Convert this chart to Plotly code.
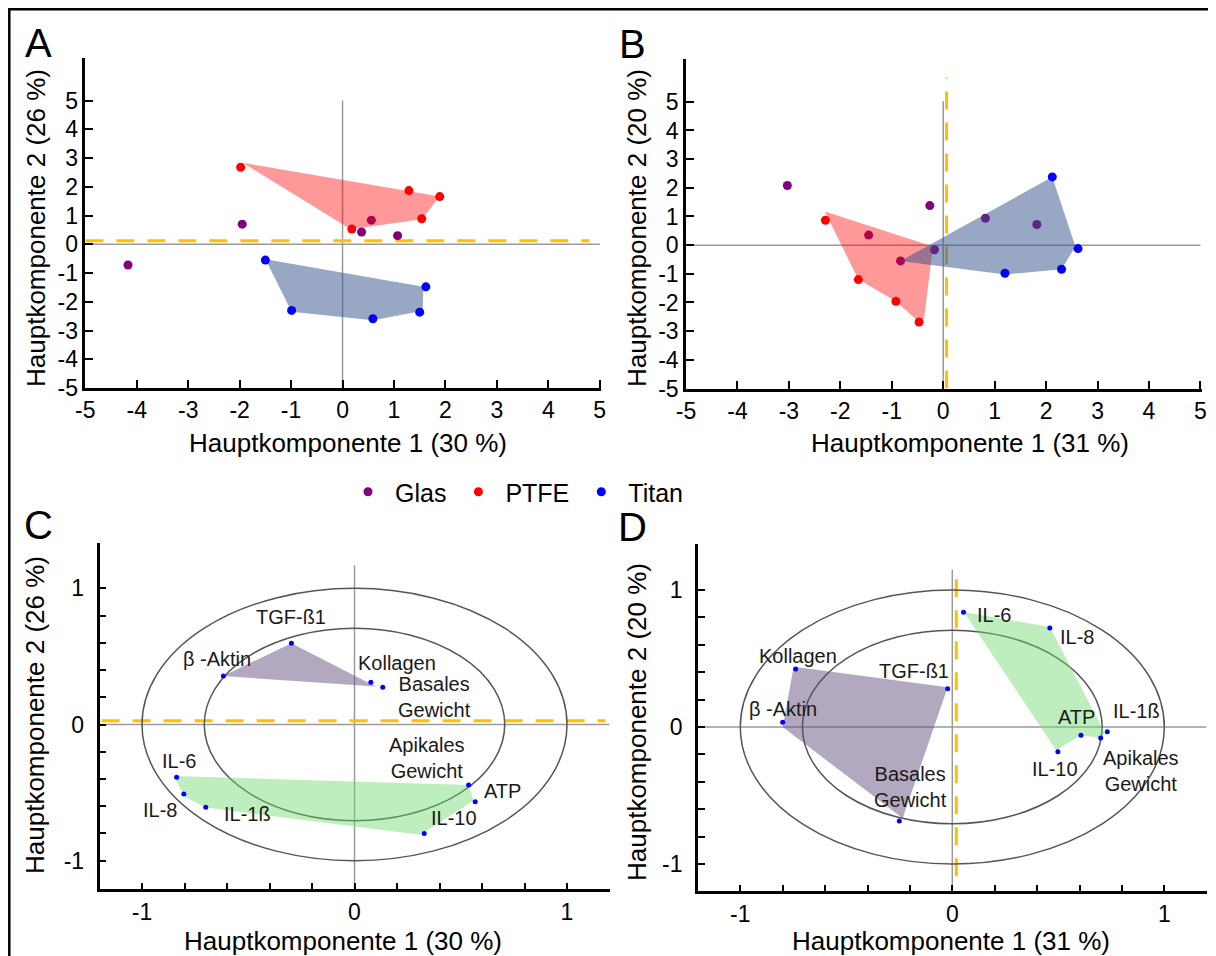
import plotly.graph_objects as go

# reference canvas is 1216x956; the page adds an 8 px body margin, so every
# reference pixel position is shifted by 8 px (overflow at right/bottom is clipped).
REF_W, REF_H, OFF = 1216, 956, 8
W, H = REF_W - OFF, REF_H - OFF
FONT = "Liberation Sans, Arial, Helvetica, sans-serif"

# ---------------- data: panel A (scores) ----------------
A_glas_x = [-4.17, -1.95, 0.37, 1.07, 0.56]
A_glas_y = [-0.72, 0.70, 0.43, 0.30, 0.84]
A_ptfe_x = [-1.98, 1.29, 1.89, 1.54, 0.18]
A_ptfe_y = [2.68, 1.87, 1.66, 0.89, 0.53]
A_titan_x = [-1.50, -0.99, 0.59, 1.50, 1.62]
A_titan_y = [-0.55, -2.30, -2.59, -2.36, -1.48]
A_ptfe_hull_x = [-1.94, 1.89, 1.54, 0.16]
A_ptfe_hull_y = [2.84, 1.66, 0.87, 0.52]
A_titan_hull_x = [-1.50, 1.57, 1.56, 0.59, -0.99]
A_titan_hull_y = [-0.52, -1.48, -2.31, -2.64, -2.35]

# ---------------- data: panel B (scores) ----------------
B_glas_x = [-3.03, -0.26, 0.82, 1.82, -0.83, -1.45, -0.17]
B_glas_y = [2.08, 1.38, 0.94, 0.72, -0.55, 0.35, -0.16]
B_ptfe_x = [-2.29, -1.65, -0.92, -0.47]
B_ptfe_y = [0.87, -1.20, -1.96, -2.68]
B_titan_x = [2.12, 2.62, 2.30, 1.20]
B_titan_y = [2.38, -0.12, -0.84, -0.98]
B_ptfe_hull_x = [-2.30, -0.20, -0.37, -0.47, -0.92, -1.65]
B_ptfe_hull_y = [1.17, -0.05, -2.55, -2.68, -1.96, -1.20]
B_titan_hull_x = [-0.83, 2.12, 2.57, 2.30, 1.20]
B_titan_hull_y = [-0.55, 2.38, -0.05, -0.84, -1.02]

# ---------------- data: panels C / D (loadings) ----------------
variables = ["TGF-ß1", "β -Aktin", "Kollagen", "Basales<br>Gewicht", "IL-6",
             "IL-8", "IL-1ß", "ATP", "Apikales<br>Gewicht", "IL-10"]
C_x = [-0.297, -0.617, 0.077, 0.133, -0.837, -0.803, -0.700, 0.568, 0.537, 0.328]
C_y = [0.596, 0.356, 0.310, 0.273, -0.388, -0.510, -0.608, -0.567, -0.444, -0.800]
D_x = [-0.022, -0.800, -0.739, -0.250, 0.053, 0.460, 0.731, 0.607, 0.700, 0.498]
D_y = [0.280, 0.034, 0.423, -0.686, 0.837, 0.723, -0.034, -0.060, -0.080, -0.180]
C_grp1_x = [-0.297, -0.620, 0.100]
C_grp1_y = [0.596, 0.356, 0.280]
C_grp2_x = [-0.850, 0.537, 0.560, 0.310, -0.700, -0.800]
C_grp2_y = [-0.378, -0.444, -0.560, -0.810, -0.610, -0.530]
D_grp1_x = [-0.748, -0.022, -0.234, -0.800]
D_grp1_y = [0.440, 0.290, -0.666, 0.000]
D_grp2_x = [0.055, 0.460, 0.720, 0.700, 0.607, 0.490]
D_grp2_y = [0.840, 0.730, -0.045, -0.080, -0.060, -0.170]

score_ticks = [-5, -4, -3, -2, -1, 0, 1, 2, 3, 4, 5]
score_ticktext = ["-5", "-4", "-3", "-2", "-1", "0", "1", "2", "3", "4", "5"]
load_ticks = [-1.0, -0.8, -0.6, -0.4, -0.2, 0.0, 0.2, 0.4, 0.6, 0.8, 1.0]
load_ticktext = ["-1", "", "", "", "", "0", "", "", "", "", "1"]

PURPLE, RED, BLUE = "#800080", "#ff0000", "#0000ff"
RED_FILL = "rgba(255,0,0,0.40)"
BLUE_FILL = "rgba(50,80,135,0.50)"
VIOLET_FILL = "rgba(95,75,125,0.48)"
GREEN_FILL = "rgba(110,215,110,0.45)"


def fx(px):
    return (px - OFF) / W


def fy(py):
    return 1 - (py - OFF) / H


def dom_x(a, b):
    return [fx(a), fx(b)]


def dom_y(top, bottom):
    return [fy(bottom), fy(top)]


fig = go.Figure()


def score_panel(ax, glas, ptfe, titan, hulls, legend):
    xa, ya = ("x", "y") if ax == 1 else (f"x{ax}", f"y{ax}")
    fig.add_trace(go.Scatter(x=glas[0], y=glas[1], mode="markers", name="Glas",
                             legendgroup="g", legendrank=1, showlegend=legend,
                             marker=dict(color=PURPLE, size=9), xaxis=xa, yaxis=ya))
    for hx, hy, col in hulls:
        fig.add_trace(go.Scatter(x=hx + [hx[0]], y=hy + [hy[0]], mode="none", fill="toself",
                                 fillcolor=col, showlegend=False, hoverinfo="skip",
                                 xaxis=xa, yaxis=ya))
    fig.add_trace(go.Scatter(x=ptfe[0], y=ptfe[1], mode="markers", name="PTFE",
                             legendgroup="p", legendrank=2, showlegend=legend,
                             marker=dict(color=RED, size=9), xaxis=xa, yaxis=ya))
    fig.add_trace(go.Scatter(x=titan[0], y=titan[1], mode="markers", name="Titan",
                             legendgroup="t", legendrank=3, showlegend=legend,
                             marker=dict(color=BLUE, size=9), xaxis=xa, yaxis=ya))


score_panel(1, (A_glas_x, A_glas_y), (A_ptfe_x, A_ptfe_y), (A_titan_x, A_titan_y),
            [(A_ptfe_hull_x, A_ptfe_hull_y, RED_FILL), (A_titan_hull_x, A_titan_hull_y, BLUE_FILL)], True)
score_panel(2, (B_glas_x, B_glas_y), (B_ptfe_x, B_ptfe_y), (B_titan_x, B_titan_y),
            [(B_ptfe_hull_x, B_ptfe_hull_y, RED_FILL), (B_titan_hull_x, B_titan_hull_y, BLUE_FILL)], False)


def loading_panel(ax, vx, vy, g1, g2):
    xa, ya = f"x{ax}", f"y{ax}"
    for gx, gy, col in [(g1[0], g1[1], VIOLET_FILL), (g2[0], g2[1], GREEN_FILL)]:
        fig.add_trace(go.Scatter(x=gx + [gx[0]], y=gy + [gy[0]], mode="none", fill="toself",
                                 fillcolor=col, showlegend=False, hoverinfo="skip",
                                 xaxis=xa, yaxis=ya))
    fig.add_trace(go.Scatter(x=vx, y=vy, mode="markers", text=variables, showlegend=False,
                             marker=dict(color=BLUE, size=5), xaxis=xa, yaxis=ya))


loading_panel(3, C_x, C_y, (C_grp1_x, C_grp1_y), (C_grp2_x, C_grp2_y))
loading_panel(4, D_x, D_y, (D_grp1_x, D_grp1_y), (D_grp2_x, D_grp2_y))

# ---------------- axes ----------------
base = dict(showline=True, linecolor="black", linewidth=2.5, ticks="inside", ticklen=8,
            tickwidth=2, tickcolor="black", showgrid=False, zeroline=False, fixedrange=True,
            automargin=False, tickfont=dict(size=23, family=FONT, color="black"))
score_ax = dict(base, tickvals=score_ticks, ticktext=score_ticktext)
load_ax = dict(base, tickvals=load_ticks, ticktext=load_ticktext, ticklen=7)

fig.update_layout(
    template="none",
    xaxis=dict(score_ax, domain=dom_x(85.3, 601.3), range=[-5, 5.03], anchor="y"),
    yaxis=dict(score_ax, domain=dom_y(57.5, 388), range=[-5, 6.5], anchor="x"),
    xaxis2=dict(score_ax, domain=dom_x(686, 1202), range=[-5, 5.03], anchor="y2"),
    yaxis2=dict(score_ax, domain=dom_y(58.8, 388.5), range=[-5, 6.5], anchor="x2"),
    xaxis3=dict(load_ax, domain=dom_x(99.5, 609.5), range=[-1.2, 1.2], anchor="y3"),
    yaxis3=dict(load_ax, domain=dom_y(543.4, 889.3), range=[-1.21, 1.33], anchor="x3",
                ticklabelstandoff=8),
    xaxis4=dict(load_ax, domain=dom_x(697.9, 1206.7), range=[-1.2, 1.2], anchor="y4"),
    yaxis4=dict(load_ax, domain=dom_y(544, 891.4), range=[-1.2, 1.336], anchor="x4",
                ticklabelstandoff=8),
)

# ---------------- shapes ----------------
GRAY = "#9a9a9a"
YELLOW = "#ffc000"
shapes = []


def line(ax, x0, y0, x1, y1, color, width, dash="solid"):
    xr, yr = ("x", "y") if ax == 1 else (f"x{ax}", f"y{ax}")
    shapes.append(dict(type="line", xref=xr, yref=yr, x0=x0, y0=y0, x1=x1, y1=y1, layer="below",
                       line=dict(color=color, width=width, dash=dash)))


DASH = "18px,13px"
# A
line(1, 0, -5, 0, 5, GRAY, 1.5); line(1, -5, 0, 5, 0, GRAY, 1.5)
line(1, -5, 0.125, 4.8, 0.125, YELLOW, 3, DASH)
# B
line(2, 0, -5, 0, 5.02, GRAY, 1.5); line(2, -5, 0, 5, 0, GRAY, 1.5)
line(2, 0.065, -5, 0.065, 5.85, YELLOW, 3, DASH)
# C
line(3, 0, -1.21, 0, 1.17, GRAY, 1.5); line(3, -1.2, 0, 1.2, 0, GRAY, 1.5)
line(3, -1.19, 0.028, 1.18, 0.028, YELLOW, 3, DASH)
# D
line(4, 0, -1.2, 0, 1.15, GRAY, 1.5); line(4, -1.2, 0, 1.2, 0, GRAY, 1.5)
line(4, 0.019, -1.09, 0.019, 1.13, YELLOW, 3, DASH)
for ax in (3, 4):
    for r in (1.0, 0.707):
        shapes.append(dict(type="circle", xref=f"x{ax}", yref=f"y{ax}", x0=-r, y0=-r, x1=r, y1=r,
                           layer="below", line=dict(color="#555555", width=1.5)))
# outer frame
shapes.append(dict(type="rect", xref="paper", yref="paper", x0=fx(9.3), x1=fx(1212), y0=-0.02,
                   y1=fy(9.3), line=dict(color="black", width=2.5), fillcolor="rgba(0,0,0,0)"))

# ---------------- annotations ----------------
ann = []


def ptext(xp, yp, text, size, angle=0):
    ann.append(dict(xref="paper", yref="paper", x=fx(xp), y=fy(yp), text=text, showarrow=False,
                    xanchor="center", yanchor="middle", textangle=angle,
                    font=dict(size=size, family=FONT, color="black")))


for xp, yp, t in [(38.5, 43, "A"), (632, 44, "B"), (38.5, 525, "C"), (632, 527, "D")]:
    ptext(xp, yp, t, 40)
TS = 26
ptext(348, 443, "Hauptkomponente 1 (30 %)", TS)
ptext(970, 443, "Hauptkomponente 1 (31 %)", TS)
ptext(343, 941, "Hauptkomponente 1 (30 %)", TS)
ptext(951, 941, "Hauptkomponente 1 (31 %)", TS)
ptext(36, 228, "Hauptkomponente 2 (26 %)", TS, -90)
ptext(637, 228, "Hauptkomponente 2 (20 %)", TS, -90)
ptext(35, 715, "Hauptkomponente 2 (26 %)", TS, -90)
ptext(637, 722, "Hauptkomponente 2 (20 %)", TS, -90)

# variable label anchors (text centres) for the loading plots
C_lab = [(-0.297, 0.79), (-0.648, 0.48), (0.20, 0.45), (0.378, 0.20), (-0.827, -0.27),
         (-0.915, -0.63), (-0.505, -0.66), (0.695, -0.49), (0.341, -0.245), (0.468, -0.69)]
D_lab = [(-0.18, 0.41), (-0.80, 0.13), (-0.73, 0.52), (-0.198, -0.44), (0.197, 0.82),
         (0.586, 0.66), (0.87, 0.12), (0.584, 0.075), (0.89, -0.32), (0.483, -0.31)]
for ax, labs in ((3, C_lab), (4, D_lab)):
    for name, (lx, ly) in zip(variables, labs):
        ann.append(dict(xref=f"x{ax}", yref=f"y{ax}", x=lx, y=ly, text=name, showarrow=False,
                        xanchor="center", yanchor="middle",
                        font=dict(size=20, family=FONT, color="#1a1a1a")))

fig.update_layout(
    width=W, height=H, margin=dict(l=0, r=0, t=0, b=0, autoexpand=False),
    paper_bgcolor="white", plot_bgcolor="white",
    font=dict(family=FONT, color="black"),
    shapes=shapes, annotations=ann,
    showlegend=True,
    legend=dict(orientation="h", x=fx(341), y=fy(492), xanchor="left", yanchor="middle",
                itemwidth=44, font=dict(size=25, family=FONT, color="black"),
                bgcolor="rgba(0,0,0,0)", traceorder="normal"),
)

fig.write_html("out.html")
